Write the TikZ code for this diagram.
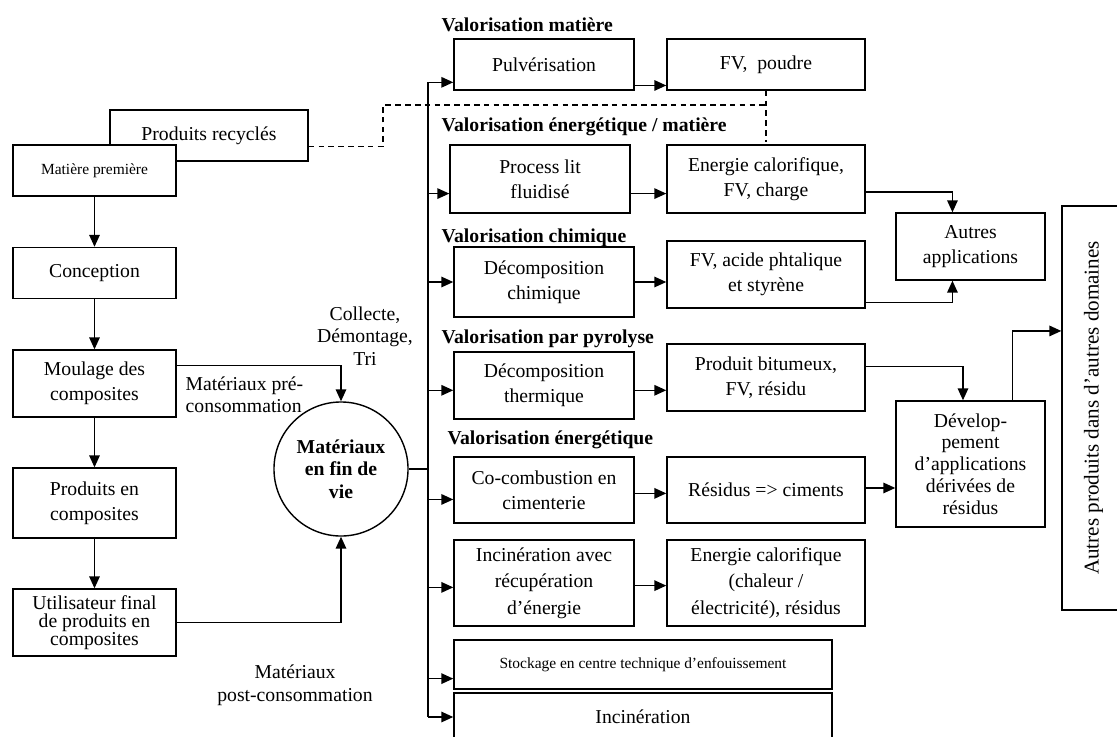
\documentclass[tikz,border=0pt]{standalone}
\usepackage{fontspec}
\setmainfont{Liberation Serif}
\usetikzlibrary{calc}
\usetikzlibrary{arrows.meta}
\def \LineWidth{1pt}
\newcommand\smalltxt{\fontsize{11}{13}\selectfont}
\newcommand\bigtxt[1]{\fontsize{14}{#1}\selectfont}

\begin{document}
\begin{tikzpicture}
[x=0.025cm, y=-0.025cm, line width=\LineWidth, font=\bigtxt{17.5},
 box/.style={draw, fill=white, align=center, inner sep=1pt},
 arr/.style={-{Triangle[length=8.5pt,width=7.5pt]}},
 titre/.style={anchor=west, inner sep=0pt, font=\bigtxt{17}\bfseries},
 pointille/.style={line width=0.8pt, dash pattern=on 4pt off 3pt}]
	\useasboundingbox (0,0) rectangle (1117,736);
	\clip (0,0) rectangle (1117,736);

	% cycle de vie
	\node[box, minimum width=4.95cm, minimum height=1.275cm] (recyc) at (209,135.5) {Produits recyclés};
	\node[box, minimum width=4.075cm, minimum height=1.275cm, font=\smalltxt] (matiere) at (94.5,170.5) {Matière première};
	\node[box, minimum width=4.075cm, minimum height=1.275cm] (concep) at (94.5,273) {Conception};
	\node[box, minimum width=4.075cm, minimum height=1.675cm] (moulage) at (94.5,383.5) {Moulage des\\composites};
	\node[box, minimum width=4.075cm, minimum height=1.75cm] (prodcomp) at (94.5,503) {Produits en\\composites};
	\node[box, minimum width=4.075cm, minimum height=1.675cm, font=\bigtxt{13}] (util) at (94.5,622.5) {Utilisateur final\\de produits en\\composites};
	\foreach \a/\b in {matiere/concep, concep/moulage, moulage/prodcomp, prodcomp/util}
		\draw[arr] (\a.south) -- (\b.north);

	\node[draw, circle, minimum size=3.35cm, inner sep=0pt, align=center, font=\bigtxt{16}\bfseries] (fin) at (341,469) {Matériaux\\en fin de\\vie};
	\coordinate (moul-out) at ($(moulage.south east)!.76!(moulage.north east)$);
	\draw[arr] (moul-out) -| (fin.north);
	\draw[arr] (util.east) -| (fin.south);
	\node[anchor=north west, align=left, inner sep=0pt, font=\bigtxt{16}] (pre) at (185,376) {Matériaux pré-\\consommation};
	\node[align=center, inner sep=0pt, font=\bigtxt{16}] (collecte) at (365,336) {Collecte,\\Démontage,\\Tri};
	\node[align=center, inner sep=0pt, font=\bigtxt{16}] (post) at (295,685) {Matériaux\\post-consommation};

	% filieres
	\node[titre] (t1) at (441,25) {Valorisation matière};
	\node[titre] (t2) at (441,127) {Valorisation énergétique / matière};
	\node[titre] (t3) at (441,238) {Valorisation chimique};
	\node[titre] (t4) at (441,339) {Valorisation par pyrolyse};
	\node[titre] (t5) at (447,440) {Valorisation énergétique};

	\node[box, minimum width=4.5cm, minimum height=1.275cm] (pulv) at (544,64.5) {Pulvérisation};
	\node[box, minimum width=4.95cm, minimum height=1.275cm] (fvp) at (766,64.5) {FV,\ \ poudre};
	\node[box, minimum width=4.5cm, minimum height=1.7cm] (plit) at (540,179) {Process lit\\fluidisé};
	\node[box, minimum width=4.95cm, minimum height=1.7cm] (ecal) at (766,179) {Energie calorifique,\\FV, charge};
	\node[box, minimum width=4.5cm, minimum height=1.75cm] (dchim) at (544,282) {Décomposition\\chimique};
	\node[box, minimum width=4.95cm, minimum height=1.675cm] (fvac) at (766,274.5) {FV, acide phtalique\\et styrène};
	\node[box, minimum width=4.5cm, minimum height=1.675cm] (dtherm) at (544,385.5) {Décomposition\\thermique};
	\node[box, minimum width=4.95cm, minimum height=1.675cm] (pbit) at (766,377.5) {Produit bitumeux,\\FV, résidu};
	\node[box, minimum width=4.5cm, minimum height=1.65cm] (cocomb) at (544,490) {Co-combustion en\\cimenterie};
	\node[box, minimum width=4.95cm, minimum height=1.65cm] (resid) at (766,490) {Résidus => ciments};
	\node[box, minimum width=4.5cm, minimum height=2.15cm, font=\bigtxt{19}] (increc) at (544,583) {Incinération avec\\récupération\\d’énergie};
	\node[box, minimum width=4.95cm, minimum height=2.15cm, font=\bigtxt{19}] (ecal2) at (766,583) {Energie calorifique\\(chaleur /\\électricité), résidus};
	\node[box, minimum width=9.45cm, minimum height=1.225cm, font=\smalltxt] (stock) at (643,664.5) {Stockage en centre technique d’enfouissement};
	\node[box, minimum width=9.45cm, minimum height=1.2cm] (incin) at (643,717) {Incinération};

	\node[box, minimum width=3.725cm, minimum height=1.675cm] (autres) at (970.5,246.5) {Autres\\applications};
	\node[box, minimum width=3.725cm, minimum height=3.15cm, font=\bigtxt{15.5}] (dev) at (970.5,464) {Dévelop-\\pement\\d’applications\\dérivées de\\résidus};
	\node[box, minimum width=1.575cm, minimum height=10.1cm, font=\fontsize{15}{17}\selectfont] (autprod) at (1093.5,408) {\rotatebox{90}{Autres produits dans d’autres domaines}};

	% collecteur
	\coordinate (bus) at (428,82);
	\draw (fin.east) -- (fin.east -| bus);
	\foreach \n/\f in {pulv/.16, plit/.29, dchim/.5, dtherm/.43, cocomb/.36, increc/.45, stock/.22, incin/.5}{
		\coordinate (\n-in) at ($(\n.south west)!\f!(\n.north west)$);
		\draw[arr] (\n-in -| bus) -- (\n-in);
	}
	\draw (pulv-in -| bus) -- (incin-in -| bus);

	\foreach \a/\b/\f in {pulv/fvp/.1, plit/ecal/.29, dchim/fvac/.5, dtherm/pbit/.43, cocomb/resid/.45, increc/ecal2/.47}{
		\coordinate (\a-out) at ($(\a.south east)!\f!(\a.north east)$);
		\draw[arr] (\a-out) -- (\a-out -| \b.west);
	}

	\coordinate (ecal-out) at ($(ecal.south east)!.31!(ecal.north east)$);
	\coordinate (autres-n) at ($(autres.north west)!.38!(autres.north east)$);
	\draw[arr] (ecal-out) -| (autres-n);
	\coordinate (fvac-out) at ($(fvac.south east)!.09!(fvac.north east)$);
	\coordinate (autres-s) at ($(autres.south west)!.38!(autres.south east)$);
	\draw[arr] (fvac-out) -| (autres-s);
	\coordinate (pbit-out) at ($(pbit.south east)!.66!(pbit.north east)$);
	\coordinate (dev-n) at ($(dev.north west)!.45!(dev.north east)$);
	\draw[arr] (pbit-out) -| (dev-n);
	\coordinate (resid-out) at ($(resid.south east)!.53!(resid.north east)$);
	\draw[arr] (resid-out) -- (resid-out -| dev.west);
	\coordinate (dev-up) at ($(dev.north west)!.78!(dev.north east)$);
	\coordinate (autprod-in) at ($(autprod.south west)!.69!(autprod.north west)$);
	\draw[arr] (dev-up) |- (autprod-in);

	% recyclage
	\coordinate (recyc-out) at ($(recyc.south east)!.29!(recyc.north east)$);
	\coordinate (dcorner) at (383,105);
	\coordinate (dend) at (766,142);
	\draw[pointille] (recyc-out) -| (dcorner) -- (dcorner -| fvp.south);
	\draw[pointille] (fvp.south) -- (dend);
\end{tikzpicture}
\end{document}
